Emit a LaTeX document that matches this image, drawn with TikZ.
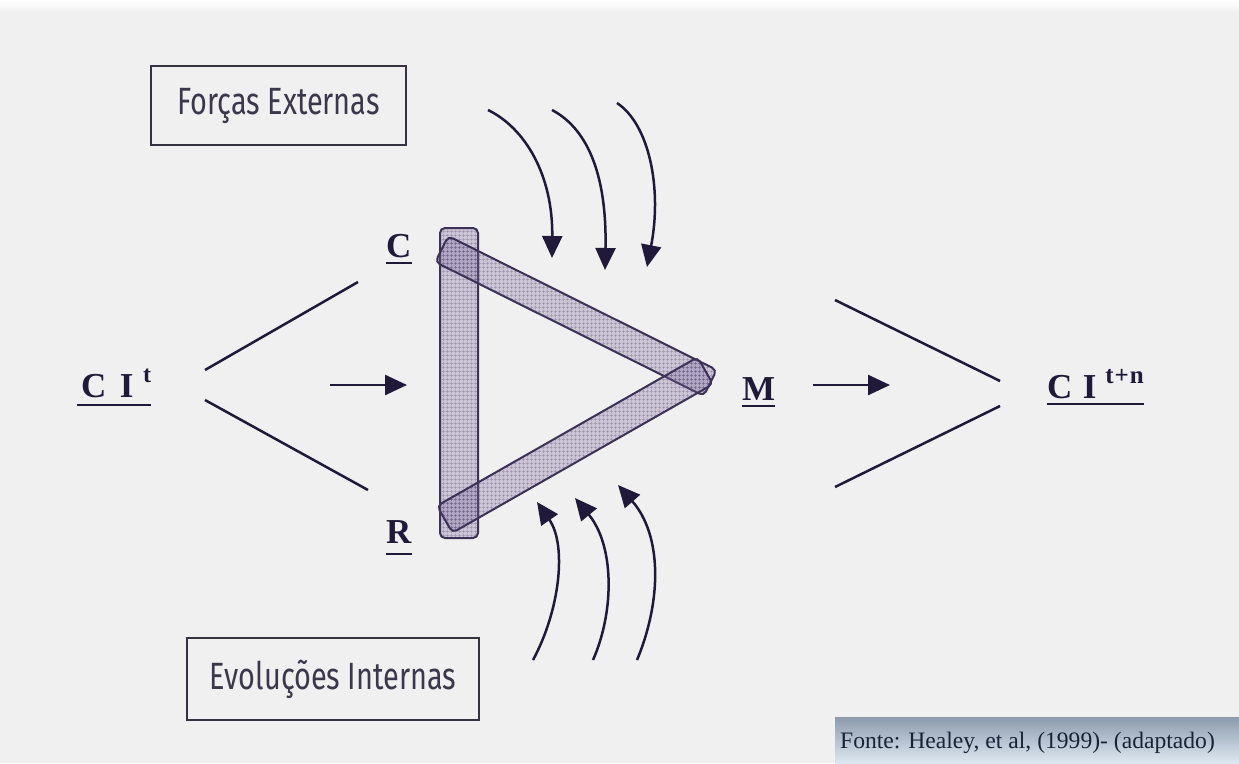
\documentclass[tikz,border=0pt]{standalone}
\usepackage{fontspec}
\setmainfont{Liberation Serif}
\newfontfamily\boxfont[FakeStretch=0.76]{Fira Sans}
\usetikzlibrary{arrows.meta,patterns.meta}
\definecolor{bg}{RGB}{240,240,240}
\definecolor{ink}{RGB}{32,25,58}
\definecolor{bandfill}{RGB}{120,100,155}
\definecolor{bandline}{RGB}{60,50,88}
\definecolor{boxline}{RGB}{55,50,65}
\definecolor{boxtext}{RGB}{60,55,75}
\definecolor{foottop}{RGB}{140,155,172}
\definecolor{footbot}{RGB}{222,232,242}
\definecolor{foottext}{RGB}{25,35,55}
\begin{document}
\begin{tikzpicture}[x=1pt,y=-1pt,
  conn/.style={draw=ink,line width=2.5pt},
  arr/.style={conn,-{Triangle[length=22pt,width=20pt]}},
  band/.style={rectangle,rounded corners=5pt,draw=bandline,line width=2pt,
    fill=bandfill,fill opacity=0.30,
    postaction={pattern={Hatch[angle=0,distance=4pt,line width=0.6pt]},pattern color=bandline,fill opacity=0.35}},
  labelbox/.style={draw=boxline,line width=2.2pt,fill=bg,inner sep=0pt,
    font=\boxfont\fontsize{38}{40}\selectfont,text=boxtext},
  lbl/.style={inner sep=0pt,anchor=base west,text=ink,font=\bfseries\fontsize{35}{35}\selectfont},
  ul/.style={draw=ink,line width=2.8pt}
]
\useasboundingbox (0,0) rectangle (1239,763);
\fill[bg] (0,0) rectangle (1239,763);
\shade[top color=white,bottom color=bg] (0,0) rectangle (1239,12);

% text boxes
\node[labelbox,minimum width=255pt,minimum height=79pt] (fe) at (278.5,105.5) {Forças Externas};
\node[labelbox,minimum width=292pt,minimum height=82pt] (ei) at (333,679) {Evoluções Internas};

% triangle bands
\node[band,minimum width=38pt,minimum height=310pt] (bandV) at (459,383) {};
\node[band,minimum width=300pt,minimum height=29pt,rotate=-26.5] (bandU) at (576,316) {};
\node[band,minimum width=300pt,minimum height=31pt,rotate=29.7] (bandL) at (575,445) {};

% labels
\node[lbl] (C) at (386,257) {C};
\node[lbl] (R) at (386,543) {R};
\node[lbl] (M) at (742,400) {M};
\node[lbl] (CIt) at (81,397) {C\hspace{0.38em}I\hspace{0.28em}\raisebox{0.42em}{\fontsize{24}{24}\selectfont t}};
\node[lbl] (CItn) at (1047,398) {C\hspace{0.3em}I\hspace{0.25em}\raisebox{0.42em}{\fontsize{25}{25}\selectfont t\kern1pt+\kern1pt n}};
\draw[ul] ([yshift=-6pt]C.base west) -- ([yshift=-6pt]C.base east);
\draw[ul] ([yshift=-11pt]R.base west) -- ([yshift=-11pt]R.base east);
\draw[ul] ([yshift=-6pt]M.base west) -- ([yshift=-6pt]M.base east);
\draw[ul] ([xshift=-4pt,yshift=-8pt]CIt.base west) -- ([yshift=-8pt]CIt.base east);
\draw[ul] ([yshift=-6pt]CItn.base west) -- ([yshift=-6pt]CItn.base east);

% connector end points
\coordinate (l1a) at (205,370); \coordinate (l1b) at (358,282);
\coordinate (l2a) at (205,400); \coordinate (l2b) at (368,490);
\coordinate (a1a) at (330,385); \coordinate (a1b) at (407,385);
\coordinate (a2a) at (813,385); \coordinate (a2b) at (890,385);
\coordinate (r1a) at (835,300); \coordinate (r1b) at (1000,381);
\coordinate (r2a) at (1000,406); \coordinate (r2b) at (835,487);
\draw[conn] (l1a) -- (l1b);
\draw[conn] (l2a) -- (l2b);
\draw[conn] (r1a) -- (r1b);
\draw[conn] (r2a) -- (r2b);
\draw[arr] (a1a) -- (a1b);
\draw[arr] (a2a) -- (a2b);

% external forces arrows
\coordinate (t1) at (488,110); \coordinate (t1e) at (552,258);
\coordinate (t2) at (552,110); \coordinate (t2e) at (605,270);
\coordinate (t3) at (617,103); \coordinate (t3e) at (647,267);
\draw[arr] (t1) .. controls (525,128) and (553,175) .. (t1e);
\draw[arr] (t2) .. controls (590,130) and (607,180) .. (t2e);
\draw[arr] (t3) .. controls (650,125) and (662,190) .. (t3e);

% internal evolutions arrows
\coordinate (b1) at (533,660); \coordinate (b1e) at (537,502);
\coordinate (b2) at (593,660); \coordinate (b2e) at (575,498);
\coordinate (b3) at (637,660); \coordinate (b3e) at (618,485);
\draw[arr] (b1) .. controls (560,610) and (567,545) .. (b1e);
\draw[arr] (b2) .. controls (615,610) and (614,545) .. (b2e);
\draw[arr] (b3) .. controls (662,600) and (662,535) .. (b3e);

% source
\shade[top color=foottop,bottom color=footbot] (835,717) rectangle (1239,763);
\node[anchor=base west,inner sep=0pt,text=foottext,font=\fontsize{23.6}{25}\selectfont] (fonte) at (840,748) {Fonte: Healey, et al, (1999)- (adaptado)};
\end{tikzpicture}
\end{document}
